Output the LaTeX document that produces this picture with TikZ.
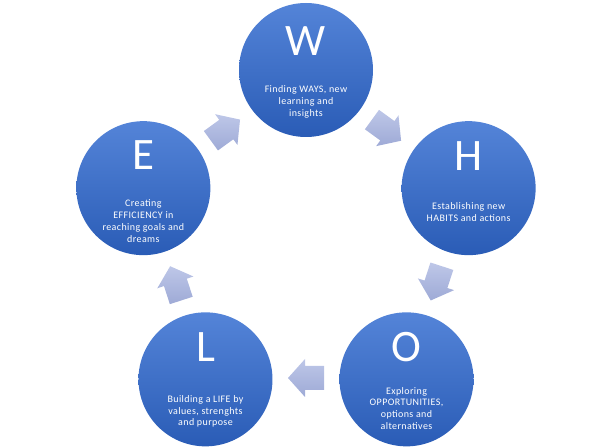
\documentclass[tikz,border=0pt]{standalone}
\usepackage{fontspec}
\setmainfont{Carlito}
\newfontfamily\descfont{Carlito}[LetterSpace=4]
\usetikzlibrary{calc}
\definecolor{ctop}{RGB}{84,132,216}
\definecolor{cbot}{RGB}{42,92,182}
\definecolor{atop}{RGB}{190,199,232}
\definecolor{abot}{RGB}{158,170,214}
\tikzset{
  circ/.style={circle, minimum size=134pt, inner sep=0pt, draw=none, top color=ctop, bottom color=cbot},
  bigletter/.style={text=white, font=\fontsize{45}{45}\selectfont, inner sep=0pt},
  desc/.style={text=white, align=center, font=\descfont\fontsize{10}{11.8}\selectfont, inner sep=0pt},
  blockarrow/.style={draw=none, top color=atop, bottom color=abot}
}
\begin{document}
\begin{tikzpicture}[x=1pt,y=1pt]
\useasboundingbox (0,0) rectangle (608,447);
\coordinate (C) at (306,206);
% circles
\node[circ] (W) at ($(C)+(90:171)$) {};
\node[circ] (H) at ($(C)+(18:171)$) {};
\node[circ] (O) at ($(C)+(-54:171)$) {};
\node[circ] (L) at ($(C)+(-126:171)$) {};
\node[circ] (E) at ($(C)+(162:171)$) {};
% letters
\node[bigletter] (Wl) at ($(W)+(0,29)$) {W};
\node[bigletter] (Hl) at ($(H)+(0,32)$) {H};
\node[bigletter] (Ol) at ($(O)+(0,32)$) {O};
\node[bigletter] (Ll) at ($(L)+(0,32)$) {L};
\node[bigletter] (El) at ($(E)+(0,33)$) {E};
% descriptions
\node[desc] (Wt) at ($(W)+(0,-32)$) {Finding WAYS, new\\learning and\\insights};
\node[desc] (Ht) at ($(H)+(0,-24)$) {Establishing new\\HABITS and actions};
\node[desc] (Ot) at ($(O)+(0,-29)$) {Exploring\\OPPORTUNITIES,\\options and\\alternatives};
\node[desc] (Lt) at ($(L)+(0,-32)$) {Building a LIFE by\\values, strenghts\\and purpose};
\node[desc] (Et) at ($(E)+(0,-33)$) {Creating\\EFFICIENCY in\\reaching goals and\\dreams};
% block arrows
\foreach \a in {126,54,-18,-90,198}{
  \begin{scope}[shift={($(C)+(\a:137)$)}, rotate=\a-90]
    \shade[blockarrow] (18,0) -- (1,19) -- (1,12) -- (-18,12) -- (-18,-12) -- (1,-12) -- (1,-19) -- cycle;
  \end{scope}
}
\end{tikzpicture}
\end{document}
